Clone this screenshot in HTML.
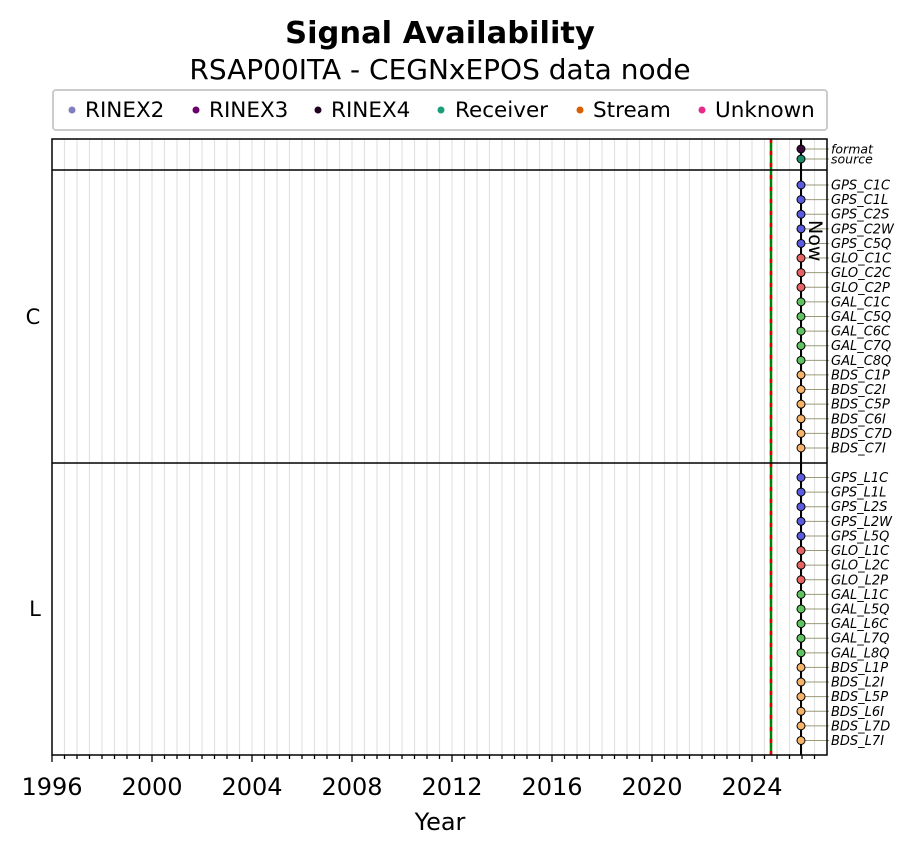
<!DOCTYPE html>
<html><head><meta charset="utf-8"><style>
body{margin:0;background:#fff}
svg{display:block;font-family:"DejaVu Sans","Liberation Sans",sans-serif}
</style></head><body>
<svg id="s" width="918" height="854" xmlns="http://www.w3.org/2000/svg">
<text x="440" y="43" text-anchor="middle" font-size="30.5" font-weight="bold">Signal Availability</text>
<text x="440" y="79" text-anchor="middle" font-size="28">RSAP00ITA - CEGNxEPOS data node</text>
<rect x="53" y="90" width="774" height="40" rx="3" fill="#fff" stroke="#ccc" stroke-width="2"/>
<g font-size="21.5">
<circle cx="72" cy="110" r="3.5" fill="#7f7fc0"/><text x="85" y="117">RINEX2</text>
<circle cx="196" cy="110" r="3.5" fill="#6a006a"/><text x="209" y="117">RINEX3</text>
<circle cx="318" cy="110" r="3.5" fill="#200020"/><text x="331" y="117">RINEX4</text>
<circle cx="441" cy="110" r="3.5" fill="#1b9e77"/><text x="455" y="117">Receiver</text>
<circle cx="580" cy="110" r="3.5" fill="#d95f02"/><text x="593" y="117">Stream</text>
<circle cx="702" cy="110" r="3.5" fill="#e7298a"/><text x="715" y="117">Unknown</text>
</g>
<g id="grid"></g>
<g id="rows"></g>
<line x1="771" y1="139" x2="771" y2="755" stroke="#008000" stroke-width="2.5"/>
<line x1="771" y1="139" x2="771" y2="755" stroke="#e00000" stroke-width="2.5" stroke-dasharray="4,8"/>
<line x1="801" y1="139" x2="801" y2="755" stroke="#000" stroke-width="2"/>
<text x="0" y="0" font-size="19" transform="translate(809,220) rotate(90)">Now</text>
<g id="dots"></g>
<rect x="52" y="139" width="775" height="616" fill="none" stroke="#000" stroke-width="1.5"/>
<line x1="52" y1="170" x2="827" y2="170" stroke="#000" stroke-width="1.5"/>
<line x1="52" y1="463" x2="827" y2="463" stroke="#000" stroke-width="1.5"/>
<text x="33" y="324" text-anchor="middle" font-size="21">C</text>
<text x="35" y="616" text-anchor="middle" font-size="21">L</text>
<g id="xt" font-size="24"></g>
<text x="440" y="830" text-anchor="middle" font-size="24">Year</text>
</svg>
<script>
var ns="http://www.w3.org/2000/svg";
function el(p,t,a,txt){var e=document.createElementNS(ns,t);for(var k in a)e.setAttribute(k,a[k]);if(txt)e.textContent=txt;document.getElementById(p).appendChild(e);return e;}
for(var i=1;i<62;i++){var x=52+i*12.5;el('grid','line',{x1:x,y1:139,x2:x,y2:755,stroke:'#e2e2e2','stroke-width':1.2});
 var big=(i%8==0);el('xt','line',{x1:x,y1:755,x2:x,y2:755+(big?7:4),stroke:'#000','stroke-width':1.3});}
el('xt','line',{x1:52,y1:755,x2:52,y2:762,stroke:'#000','stroke-width':1.3});
for(var y=1996;y<=2024;y+=4){el('xt','text',{x:52+(y-1996)*25,y:795,'text-anchor':'middle'},''+y);}
var cols={GPS:'#5b5be0',GLO:'#e86464',GAL:'#5fc45f',BDS:'#f7b36a'};
var C=['GPS_C1C','GPS_C1L','GPS_C2S','GPS_C2W','GPS_C5Q','GLO_C1C','GLO_C2C','GLO_C2P','GAL_C1C','GAL_C5Q','GAL_C6C','GAL_C7Q','GAL_C8Q','BDS_C1P','BDS_C2I','BDS_C5P','BDS_C6I','BDS_C7D','BDS_C7I'];
var L=C.map(function(s){return s.replace('_C','_L')});
function row(y,lbl,col,fs){el('rows','line',{x1:801,y1:y,x2:829,y2:y,stroke:'#9a9a7a','stroke-width':1});
 el('rows','text',{x:831,y:y+4.5,'font-size':fs,'font-style':'italic'},lbl);
 el('dots','circle',{cx:801,cy:y,r:4,fill:col,stroke:'#000','stroke-width':1});}
row(149,'format','#3a0a3a',12.5);row(159,'source','#1b8a6a',12.5);
C.forEach(function(s,i){row(185+i*14.61,s,cols[s.slice(0,3)],13);});
L.forEach(function(s,i){row(477.5+i*14.61,s,cols[s.slice(0,3)],13);});
</script>
</body></html>
